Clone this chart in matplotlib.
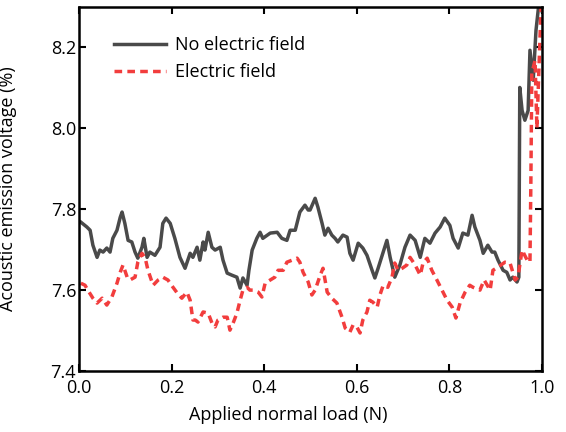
import numpy as np
import matplotlib as mpl
mpl.use('Agg')
import matplotlib.pyplot as plt

# 无电场 (gray, solid)
load_no = [0.004, 0.017, 0.024, 0.030, 0.039, 0.045, 0.052, 0.060, 0.067, 0.073,
           0.082, 0.089, 0.093, 0.099, 0.106, 0.114, 0.121, 0.127, 0.136, 0.140,
           0.147, 0.153, 0.164, 0.175, 0.181, 0.188, 0.197, 0.207, 0.218, 0.229,
           0.240, 0.246, 0.255, 0.261, 0.268, 0.272, 0.279, 0.287, 0.294, 0.305,
           0.311, 0.320, 0.330, 0.341, 0.348, 0.354, 0.363, 0.367, 0.374, 0.384,
           0.391, 0.397, 0.413, 0.428, 0.438, 0.449, 0.456, 0.467, 0.477, 0.488,
           0.495, 0.499, 0.510, 0.516, 0.525, 0.531, 0.538, 0.546, 0.553, 0.559,
           0.570, 0.579, 0.585, 0.592, 0.603, 0.613, 0.622, 0.633, 0.639, 0.646,
           0.657, 0.665, 0.672, 0.682, 0.693, 0.704, 0.715, 0.726, 0.737, 0.747,
           0.758, 0.769, 0.780, 0.790, 0.801, 0.808, 0.819, 0.829, 0.840, 0.849,
           0.855, 0.866, 0.873, 0.883, 0.892, 0.898, 0.905, 0.916, 0.924, 0.931,
           0.937, 0.946, 0.950, 0.952, 0.957, 0.963, 0.970, 0.974, 0.981, 0.987,
           0.994, 1.000]
ae_no = [7.768, 7.756, 7.748, 7.711, 7.681, 7.699, 7.694, 7.704, 7.694, 7.728,
         7.748, 7.780, 7.793, 7.765, 7.723, 7.719, 7.694, 7.679, 7.706, 7.728,
         7.681, 7.694, 7.686, 7.706, 7.765, 7.778, 7.765, 7.728, 7.681, 7.654,
         7.691, 7.681, 7.706, 7.674, 7.719, 7.699, 7.743, 7.706, 7.699, 7.706,
         7.674, 7.642, 7.637, 7.632, 7.605, 7.630, 7.612, 7.649, 7.699, 7.728,
         7.743, 7.728, 7.741, 7.743, 7.728, 7.723, 7.748, 7.748, 7.793, 7.810,
         7.798, 7.798, 7.827, 7.805, 7.765, 7.736, 7.753, 7.736, 7.728, 7.719,
         7.736, 7.731, 7.691, 7.674, 7.716, 7.704, 7.686, 7.649, 7.630, 7.654,
         7.694, 7.723, 7.681, 7.632, 7.662, 7.706, 7.736, 7.723, 7.681, 7.728,
         7.716, 7.741, 7.756, 7.778, 7.760, 7.728, 7.704, 7.741, 7.736, 7.785,
         7.756, 7.723, 7.691, 7.711, 7.694, 7.694, 7.674, 7.649, 7.644, 7.625,
         7.632, 7.620, 7.632, 8.101, 8.044, 8.020, 8.044, 8.193, 8.119, 8.242,
         8.316, 8.290]

# 有电场 (red, dashed)
load_ef = [0.004, 0.013, 0.019, 0.030, 0.039, 0.050, 0.060, 0.071, 0.082, 0.089,
           0.095, 0.104, 0.110, 0.121, 0.127, 0.136, 0.143, 0.149, 0.160, 0.171,
           0.181, 0.192, 0.203, 0.212, 0.222, 0.233, 0.240, 0.246, 0.251, 0.257,
           0.268, 0.279, 0.287, 0.294, 0.300, 0.311, 0.320, 0.326, 0.333, 0.341,
           0.348, 0.354, 0.363, 0.369, 0.376, 0.387, 0.395, 0.402, 0.413, 0.423,
           0.430, 0.441, 0.449, 0.460, 0.471, 0.477, 0.484, 0.495, 0.503, 0.510,
           0.521, 0.527, 0.536, 0.546, 0.557, 0.568, 0.575, 0.585, 0.592, 0.600,
           0.607, 0.613, 0.622, 0.628, 0.635, 0.644, 0.650, 0.657, 0.667, 0.676,
           0.682, 0.689, 0.698, 0.708, 0.715, 0.726, 0.737, 0.743, 0.752, 0.762,
           0.773, 0.784, 0.795, 0.806, 0.814, 0.823, 0.834, 0.844, 0.851, 0.866,
           0.875, 0.888, 0.894, 0.905, 0.920, 0.931, 0.942, 0.948, 0.957, 0.968,
           0.974, 0.976, 0.978, 0.985, 0.989, 0.994, 0.998]
ae_ef = [7.617, 7.612, 7.600, 7.580, 7.568, 7.580, 7.563, 7.583, 7.617, 7.644,
         7.662, 7.632, 7.625, 7.632, 7.669, 7.691, 7.679, 7.649, 7.612, 7.625,
         7.632, 7.625, 7.607, 7.593, 7.580, 7.595, 7.575, 7.526, 7.526, 7.521,
         7.546, 7.543, 7.519, 7.509, 7.526, 7.533, 7.533, 7.501, 7.519, 7.543,
         7.575, 7.600, 7.607, 7.600, 7.600, 7.595, 7.583, 7.617, 7.625, 7.632,
         7.649, 7.649, 7.669, 7.674, 7.679, 7.669, 7.644, 7.620, 7.588, 7.600,
         7.637, 7.654, 7.595, 7.580, 7.568, 7.533, 7.506, 7.496, 7.514, 7.509,
         7.494, 7.526, 7.546, 7.575, 7.570, 7.558, 7.588, 7.612, 7.607, 7.632,
         7.667, 7.649, 7.654, 7.662, 7.681, 7.662, 7.637, 7.667, 7.679, 7.649,
         7.625, 7.600, 7.575, 7.558, 7.531, 7.568, 7.595, 7.612, 7.607, 7.600,
         7.625, 7.600, 7.649, 7.657, 7.669, 7.667, 7.625, 7.632, 7.699, 7.674,
         7.669, 7.872, 8.136, 8.168, 8.000, 8.168, 8.304]

plt.rcParams['font.family'] = ['Open Sans', 'DejaVu Sans']

fig = plt.figure(figsize=(5.66, 4.32), dpi=100)
ax = fig.add_axes([0.1396, 0.1412, 0.818, 0.8426])

ax.plot(load_no, ae_no, color='#4a4a4a', lw=2.5, label='No electric field')
ax.plot(load_ef, ae_ef, color='#f23d3d', lw=2.5, ls=(0, (2.2, 1.5)), label='Electric field')

ax.set_xlim(0, 1.0)
ax.set_ylim(7.4, 8.3)
ax.set_xticks([0.0, 0.2, 0.4, 0.6, 0.8, 1.0])
ax.set_yticks([7.4, 7.6, 7.8, 8.0, 8.2])
ax.tick_params(direction='in', length=5, width=1.5, labelsize=13,
               top=True, right=True, pad=2)
ax.tick_params(axis='x', pad=6)
for s in ax.spines.values():
    s.set_linewidth(1.8)

ax.set_xlabel('Applied normal load (N)', fontsize=13)
ax.set_ylabel('Acoustic emission voltage (%)', fontsize=13)
# 标签位置
ax.xaxis.set_label_coords(0.451, -0.095)
ax.yaxis.set_label_coords(-0.135, 0.5)

ax.legend(loc='upper left', frameon=False, fontsize=13, handlelength=2.9,
          bbox_to_anchor=(0.04, 0.965), labelspacing=0.5, handletextpad=0.5)

plt.savefig('out.png', dpi=100)
